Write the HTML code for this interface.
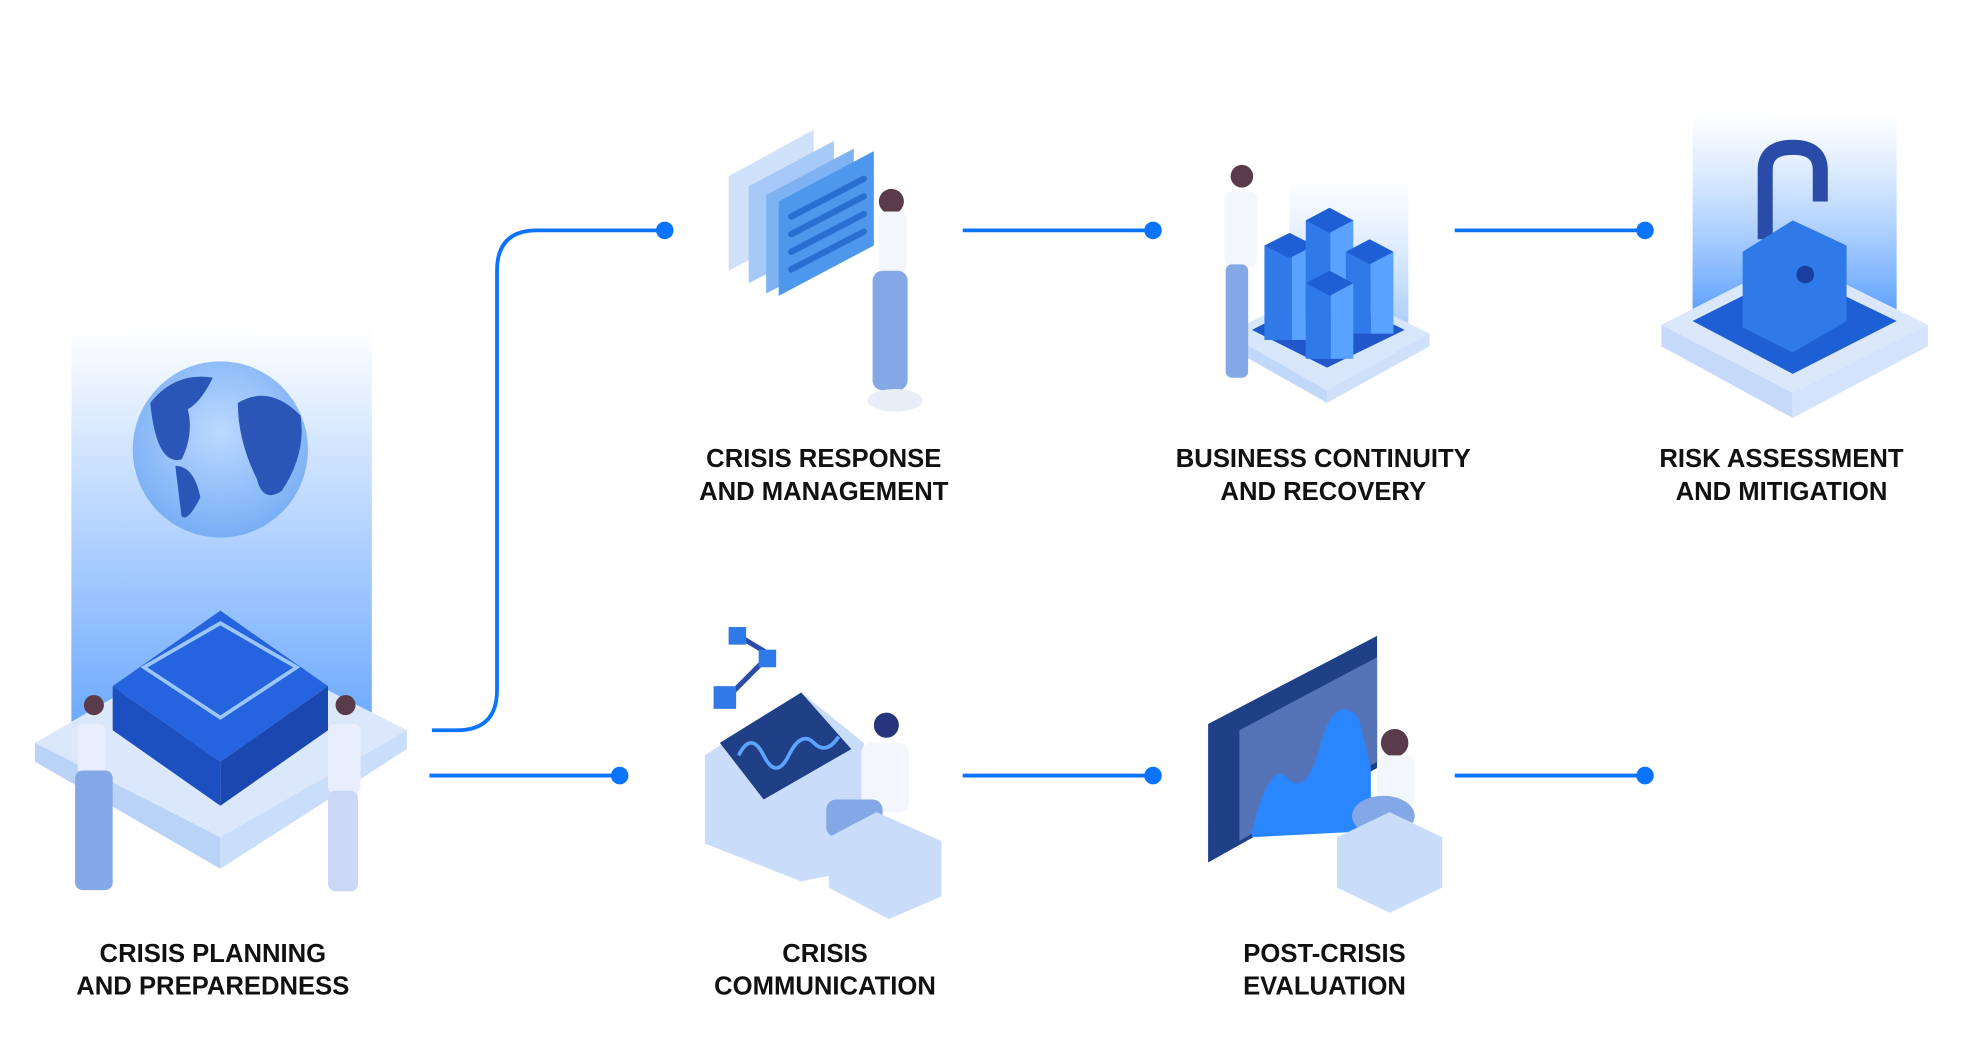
<!DOCTYPE html>
<html><head><meta charset="utf-8"><style>
html,body{margin:0;padding:0;background:#fff;}
svg{display:block;}
text{font-family:"Liberation Sans",sans-serif;font-weight:bold;fill:#111;font-size:20.5px;text-anchor:middle;}
</style></head><body>
<svg width="1963" height="1045" viewBox="0 0 1568 830" preserveAspectRatio="none" xmlns="http://www.w3.org/2000/svg">
<defs>
<linearGradient id="col" x1="0" y1="1" x2="0" y2="0"><stop offset="0" stop-color="#6aa8ff"/><stop offset="1" stop-color="#6aa8ff" stop-opacity="0"/></linearGradient>
<linearGradient id="col2" x1="0" y1="1" x2="0" y2="0"><stop offset="0" stop-color="#4d97ff"/><stop offset="1" stop-color="#8ec0ff" stop-opacity="0"/></linearGradient>
<radialGradient id="globe" cx="0.5" cy="0.4" r="0.6"><stop offset="0" stop-color="#bcd9ff"/><stop offset="1" stop-color="#78aef5"/></radialGradient>
</defs>

<g stroke="#0a74ff" stroke-width="3" fill="none">
<path d="M345,580 H365 Q397,580 397,548 V215 Q397,183 429,183 H531"/>
<path d="M769,183 H921"/><path d="M1162,183 H1314"/>
<path d="M343,616 H495"/><path d="M769,616 H921"/><path d="M1162,616 H1314"/>
</g>
<g fill="#0a74ff">
<circle cx="531" cy="183" r="7"/><circle cx="921" cy="183" r="7"/><circle cx="1314" cy="183" r="7"/>
<circle cx="495" cy="616" r="7"/><circle cx="921" cy="616" r="7"/><circle cx="1314" cy="616" r="7"/>
</g>

<rect x="57" y="260" width="240" height="320" fill="url(#col)"/>
<circle cx="176" cy="357" r="70" fill="url(#globe)"/>
<path d="M120,320 q20,-25 50,-20 q-10,20 -20,25 q5,20 -5,40 q-20,5 -25,-45z M190,320 q25,-15 50,10 q5,30 -15,60 q-15,10 -20,-10 q-15,-30 -15,-60z M140,370 q15,0 20,25 q-10,20 -15,15z" fill="#2c55b8"/>
<polygon points="28,590 176,505 325,580 176,665" fill="#dbe8fc"/>
<polygon points="28,590 176,665 176,690 28,605" fill="#b8d2f8"/>
<polygon points="176,665 325,580 325,595 176,690" fill="#c9defb"/>
<polygon points="90,545 176,485 262,545 176,605" fill="#2564de"/>
<polygon points="90,545 176,605 176,640 90,580" fill="#1c4fc0"/>
<polygon points="176,605 262,545 262,580 176,640" fill="#1a47b0"/>
<polygon points="115,530 176,495 237,530 176,570" fill="none" stroke="#9cc6ff" stroke-width="3"/>
<g fill="#e9eefc"><circle cx="75" cy="560" r="8" fill="#5a3b4a"/><rect x="62" y="575" width="22" height="40" rx="5"/><rect x="60" y="612" width="30" height="95" rx="6" fill="#84a8e6"/>
<circle cx="276" cy="560" r="8" fill="#5a3b4a"/><rect x="262" y="575" width="26" height="55" rx="5"/><rect x="262" y="628" width="24" height="80" rx="6" fill="#cad8f6"/></g>

<g>
<polygon points="582,140 650,103 650,180 582,215" fill="#cfe1fb"/>
<polygon points="598,148 666,112 666,190 598,225" fill="#a7c9f7"/>
<polygon points="612,155 682,118 682,198 612,233" fill="#7fb2f3"/>
<polygon points="622,160 698,120 698,195 622,235" fill="#4d97ec"/>
<g stroke="#2a6fcf" stroke-width="5" stroke-linecap="round"><path d="M632,172 L690,142 M632,186 L690,156 M632,200 L690,170 M632,214 L690,184"/></g>
<circle cx="712" cy="160" r="10" fill="#5a3b4a"/><rect x="702" y="168" width="22" height="50" rx="6" fill="#f3f7fd"/>
<rect x="697" y="215" width="28" height="95" rx="8" fill="#84a8e6"/>
<ellipse cx="715" cy="318" rx="22" ry="9" fill="#e8eef8"/>
</g>

<rect x="1030" y="140" width="95" height="140" fill="url(#col2)" opacity="0.6"/>
<polygon points="980,265 1060,225 1142,265 1060,310" fill="#d8e6fb"/>
<polygon points="980,265 1060,310 1060,320 980,275" fill="#c2d8f8"/>
<polygon points="1060,310 1142,265 1142,275 1060,320" fill="#cfe0fa"/>
<polygon points="1000,262 1060,232 1122,262 1060,292" fill="#2058cc"/>
<g>
<rect x="1010" y="195" width="22" height="75" fill="#2f7ae8"/><rect x="1032" y="195" width="18" height="75" fill="#5aa2ff"/><polygon points="1010,195 1030,185 1050,195 1030,205" fill="#1f5fd6"/>
<rect x="1043" y="175" width="20" height="75" fill="#2f7ae8"/><rect x="1063" y="175" width="18" height="75" fill="#5aa2ff"/><polygon points="1043,175 1062,165 1081,175 1062,185" fill="#1f5fd6"/>
<rect x="1075" y="200" width="20" height="65" fill="#2f7ae8"/><rect x="1095" y="200" width="18" height="65" fill="#5aa2ff"/><polygon points="1075,200 1094,190 1113,200 1094,210" fill="#1f5fd6"/>
<rect x="1043" y="225" width="20" height="60" fill="#2f7ae8"/><rect x="1063" y="225" width="18" height="60" fill="#5aa2ff"/><polygon points="1043,225 1062,215 1081,225 1062,235" fill="#1f5fd6"/>
</g>
<circle cx="992" cy="140" r="9" fill="#5a3b4a"/><rect x="978" y="152" width="26" height="60" rx="6" fill="#f3f7fd"/><rect x="979" y="210" width="18" height="90" rx="5" fill="#84a8e6"/>

<rect x="1352" y="90" width="163" height="170" fill="url(#col2)"/>
<polygon points="1327,258 1432,205 1540,258 1432,312" fill="#dbe8fc"/>
<polygon points="1327,258 1432,312 1432,332 1327,275" fill="#c5dafa"/>
<polygon points="1432,312 1540,258 1540,275 1432,332" fill="#d3e3fb"/>
<polygon points="1352,255 1432,215 1515,255 1432,297" fill="#1f5fd6"/>
<path d="M1410,190 V135 q0,-18 22,-18 q22,0 22,18 V160" fill="none" stroke="#2a4ba8" stroke-width="12"/>
<polygon points="1392,200 1432,175 1475,195 1475,255 1432,280 1392,260" fill="#2f7ae8"/>
<circle cx="1442" cy="218" r="7" fill="#1a3f9e"/>

<polygon points="563,600 640,550 690,590 690,690 640,700 563,670" fill="#c9ddfa"/>
<polygon points="575,590 640,550 680,595 610,635" fill="#1f3f86"/>
<path d="M590,600 q10,-20 20,0 t20,0 t20,-10 t20,-5" fill="none" stroke="#5ea3ff" stroke-width="3"/>
<path d="M590,505 L615,520 L585,550" fill="none" stroke="#2a4ba8" stroke-width="4"/>
<rect x="582" y="498" width="14" height="14" fill="#2f7ae8"/><rect x="606" y="516" width="14" height="14" fill="#2f7ae8"/><rect x="570" y="545" width="18" height="18" fill="#2f7ae8"/>
<circle cx="708" cy="576" r="10" fill="#27367a"/><rect x="688" y="590" width="38" height="55" rx="8" fill="#f3f7fd"/>
<rect x="660" y="635" width="45" height="30" rx="8" fill="#84a8e6"/>
<polygon points="662,665 700,645 752,668 752,712 710,730 662,705" fill="#c9ddfa"/>

<polygon points="965,575 1100,505 1100,610 965,685" fill="#1f3f86"/>
<polygon points="990,580 1100,522 1100,605 990,668" fill="#5574b8"/>
<path d="M1000,660 q15,-60 30,-40 q15,10 25,-30 q12,-40 30,-20 l10,40 v50 l-95,5z" fill="#2a86ff"/>
<circle cx="1114" cy="590" r="11" fill="#5a3b4a"/><rect x="1100" y="600" width="30" height="40" rx="6" fill="#f3f7fd"/>
<ellipse cx="1105" cy="648" rx="25" ry="16" fill="#84a8e6"/>
<polygon points="1068,665 1110,645 1152,665 1152,705 1110,725 1068,705" fill="#c9ddfa"/>

<text x="658" y="371">CRISIS RESPONSE</text><text x="658" y="397">AND MANAGEMENT</text>
<text x="1057" y="371">BUSINESS CONTINUITY</text><text x="1057" y="397">AND RECOVERY</text>
<text x="1423" y="371">RISK ASSESSMENT</text><text x="1423" y="397">AND MITIGATION</text>
<text x="170" y="764">CRISIS PLANNING</text><text x="170" y="790">AND PREPAREDNESS</text>
<text x="659" y="764">CRISIS</text><text x="659" y="790">COMMUNICATION</text>
<text x="1058" y="764">POST-CRISIS</text><text x="1058" y="790">EVALUATION</text>
</svg>
</body></html>
